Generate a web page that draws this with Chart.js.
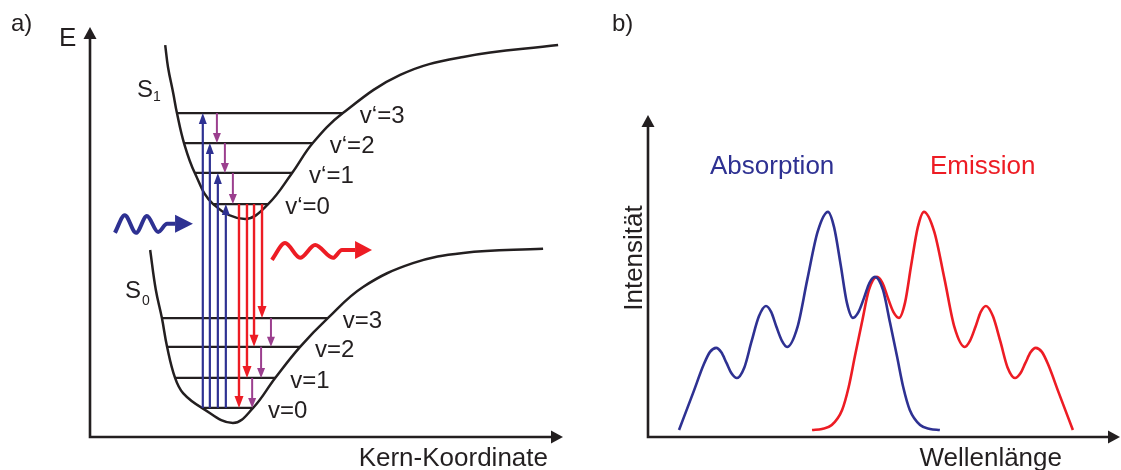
<!DOCTYPE html>
<html>
<head>
<meta charset="utf-8">
<script src="https://cdn.jsdelivr.net/npm/chart.js@4.4.1/dist/chart.umd.min.js"></script>
<style>
  html, body { margin: 0; padding: 0; background: #fff; }
  #wrap { position: relative; width: 1121px; height: 470px; overflow: hidden; }
  canvas { position: absolute; top: 0; }
  #cA { left: 0; }
  #cB { left: 580px; }
</style>
</head>
<body>
<div id="wrap">
  <canvas id="cA" width="580" height="470"></canvas>
  <canvas id="cB" width="541" height="470"></canvas>
</div>
<script>
// ---- a) Franck-Condon diagram (Kern-Koordinate vs. Energie, relative units) ----
const s0CurveX = [12.8, 14.0, 15.3, 16.4, 18.1, 19.8, 23.8, 30.4, 34.7, 39.4, 44.7, 50.6, 58.1, 68.7, 79.4, 96.4];
const s0CurveE = [45.6, 35.9, 29.0, 22.0, 14.4, 10.7, 7.1, 3.4, 7.1, 14.4, 22.0, 29.0, 36.6, 42.4, 44.9, 45.9];
const s1CurveX = [16.0, 16.6, 17.7, 18.5, 20.0, 22.3, 26.2, 33.0, 37.9, 43.0, 47.4, 53.8, 66.0, 79.4, 99.6];
const s1CurveE = [95.6, 90.2, 83.9, 79.0, 71.7, 64.4, 56.8, 53.2, 56.8, 64.4, 71.7, 79.0, 88.3, 92.7, 95.6];

// vibrational levels: energy, left and right end on the potential curve
const s0Levels = [7.1, 14.4, 22.0, 29.0];
const s0LevelLeft = [23.8, 18.1, 16.4, 15.3];
const s0LevelRight = [34.7, 39.4, 44.7, 50.6];
const s0LevelLabels = ['v=0', 'v=1', 'v=2', 'v=3'];
const s1Levels = [56.8, 64.4, 71.7, 79.0];
const s1LevelLeft = [26.2, 22.3, 20.0, 18.5];
const s1LevelRight = [37.9, 43.0, 47.4, 53.8];
const s1LevelLabels = ['v\u2018=0', 'v\u2018=1', 'v\u2018=2', 'v\u2018=3'];

// transitions: absorption v=0 -> v', emission v'=0 -> v, relaxation steps
const absorptionX = [24.0, 25.5, 27.2, 28.9];
const absorptionTarget = [3, 2, 1, 0];
const emissionX = [31.7, 33.4, 34.9, 36.6];
const emissionTarget = [0, 1, 2, 3];
const relaxS1X = [27.0, 28.7, 30.4];      // v'=3->2, 2->1, 1->0
const relaxS1From = [3, 2, 1];
const relaxS0X = [34.5, 36.4, 38.5];      // v=1->0, 2->1, 3->2
const relaxS0From = [1, 2, 3];

// incoming and outgoing photons
const photonInX = [5.3, 7.4, 9.8, 12.1, 14.5, 16.4, 18.1];
const photonInE = [49.8, 54.1, 49.8, 53.9, 50.0, 52.0, 52.0];
const photonInTip = 21.9;
const photonOutX = [38.7, 41.5, 44.7, 47.9, 51.7, 53.6, 56.4];
const photonOutE = [43.2, 47.3, 43.7, 46.8, 43.7, 45.6, 45.6];
const photonOutTip = 60.0;

// ---- b) spectra (Wellenlänge vs. Intensität, relative units) ----
const absWl = [6.6, 9.6, 11.9, 13.2, 14.5, 15.6, 16.7, 17.8, 18.9, 20.5, 22.0, 23.6, 25.1, 26.2, 27.3, 28.5, 29.6, 31.8, 33.9, 36.1, 38.3, 39.6, 41.0, 42.3, 43.6, 44.8, 46.0, 47.1, 48.3, 50.0, 51.5, 53.0, 54.3, 55.7, 57.9, 60.0, 62.1];
const absInt = [3.1, 19.6, 32.4, 37.8, 39.6, 37.6, 32.9, 28.2, 26.2, 30.9, 42.2, 53.6, 58.2, 55.6, 49.1, 42.7, 40.0, 48.8, 70.0, 91.2, 100, 93.1, 76.4, 59.8, 52.9, 55.6, 62.0, 68.4, 71.1, 65.3, 50.7, 35.6, 22.2, 12.0, 5.3, 3.6, 3.1];
const emWl = [34.9, 37.0, 39.1, 41.3, 42.7, 44.0, 45.5, 47.0, 48.7, 49.9, 51.0, 52.2, 53.4, 54.7, 56.0, 57.4, 58.7, 60.9, 63.1, 65.2, 67.4, 68.5, 69.7, 70.8, 71.9, 73.4, 75.0, 76.5, 78.1, 79.2, 80.3, 81.4, 82.5, 83.8, 85.1, 87.4, 90.4];
const emInt = [3.1, 3.6, 5.3, 12.0, 22.2, 35.6, 50.7, 65.3, 71.1, 68.4, 62.0, 55.6, 52.9, 59.8, 76.4, 93.1, 100, 91.2, 70.0, 48.8, 40.0, 42.7, 49.1, 55.6, 58.2, 53.6, 42.2, 30.9, 26.2, 28.2, 32.9, 37.6, 39.6, 37.8, 32.4, 19.6, 3.1];

const INK = '#231f20';
const BLUE = '#2e3192';
const RED = '#ed1c24';
const PURPLE = '#9b3f8e';
const FONT = '"Liberation Sans", Arial, Helvetica, sans-serif';

function pts(xs, ys) { return xs.map((x, i) => ({ x: x, y: ys[i] })); }

function curve(data, color, width, mode) {
  return {
    data: data, borderColor: color, borderWidth: width, pointRadius: 0,
    showLine: true, fill: false, clip: false,
    cubicInterpolationMode: mode || 'default', tension: 0.4,
    borderCapStyle: 'butt', borderJoinStyle: 'round'
  };
}

function head(ctx, tipX, tipY, dx, dy, len, halfW, color) {
  // dx,dy: unit direction of the arrow
  const bx = tipX - dx * len, by = tipY - dy * len;
  ctx.fillStyle = color;
  ctx.beginPath();
  ctx.moveTo(tipX, tipY);
  ctx.lineTo(bx - dy * halfW, by + dx * halfW);
  ctx.lineTo(bx + dy * halfW, by - dx * halfW);
  ctx.closePath();
  ctx.fill();
}

function vArrow(ctx, x, y0, y1, color, lw, len, halfW) {
  const dir = Math.sign(y1 - y0);
  ctx.strokeStyle = color;
  ctx.lineWidth = lw;
  ctx.lineCap = 'butt';
  ctx.beginPath();
  ctx.moveTo(x, y0);
  ctx.lineTo(x, y1 - dir * len * 0.7);
  ctx.stroke();
  head(ctx, x, y1, 0, dir, len, halfW, color);
}

function axes(ctx, a, xTipExtra) {
  ctx.strokeStyle = INK;
  ctx.lineWidth = 2.6;
  ctx.lineCap = 'butt';
  ctx.beginPath();
  ctx.moveTo(a.left, a.bottom + 1.3);
  ctx.lineTo(a.left, a.top + 10);
  ctx.moveTo(a.left - 1.3, a.bottom);
  ctx.lineTo(a.right + xTipExtra - 10, a.bottom);
  ctx.stroke();
  head(ctx, a.left, a.top, 0, -1, 12, 6.5, INK);
  head(ctx, a.right + xTipExtra, a.bottom, 1, 0, 12, 6.5, INK);
}

const commonOpts = (padding, yMax) => ({
  responsive: false,
  animation: false,
  events: [],
  layout: { padding: padding },
  plugins: { legend: { display: false }, tooltip: { enabled: false } },
  scales: {
    x: { type: 'linear', min: 0, max: 100, display: false },
    y: { type: 'linear', min: 0, max: yMax, display: false }
  }
});

// ---------- panel a ----------
const levelSets = [];
s0Levels.forEach((e, i) => levelSets.push(curve([{ x: s0LevelLeft[i], y: e }, { x: s0LevelRight[i], y: e }], INK, 2.2)));
s1Levels.forEach((e, i) => levelSets.push(curve([{ x: s1LevelLeft[i], y: e }, { x: s1LevelRight[i], y: e }], INK, 2.2)));

const panelA = {
  id: 'panelA',
  afterDatasetsDraw(chart) {
    const { ctx, chartArea: a } = chart;
    const sx = chart.scales.x, sy = chart.scales.y;
    const px = v => sx.getPixelForValue(v);
    const py = v => sy.getPixelForValue(v);
    ctx.save();
    axes(ctx, a, 3);

    absorptionX.forEach((v, i) =>
      vArrow(ctx, px(v), py(s0Levels[0]), py(s1Levels[absorptionTarget[i]]), BLUE, 2.2, 11, 4));
    emissionX.forEach((v, i) =>
      vArrow(ctx, px(v), py(s1Levels[0]), py(s0Levels[emissionTarget[i]]), RED, 2.4, 12, 4.5));
    relaxS1X.forEach((v, i) =>
      vArrow(ctx, px(v), py(s1Levels[relaxS1From[i]]), py(s1Levels[relaxS1From[i] - 1]), PURPLE, 2, 10, 4));
    relaxS0X.forEach((v, i) =>
      vArrow(ctx, px(v), py(s0Levels[relaxS0From[i]]), py(s0Levels[relaxS0From[i] - 1]), PURPLE, 2, 10, 4));

    // photon arrowheads
    const inEnd = photonInE.length - 1;
    head(ctx, px(photonInTip), py(photonInE[inEnd]), 1, 0, px(photonInTip) - px(photonInX[inEnd]), 9, BLUE);
    const outEnd = photonOutE.length - 1;
    head(ctx, px(photonOutTip), py(photonOutE[outEnd]), 1, 0, px(photonOutTip) - px(photonOutX[outEnd]), 9, RED);

    // texts
    ctx.fillStyle = INK;
    ctx.textBaseline = 'alphabetic';
    ctx.textAlign = 'left';
    ctx.font = '24px ' + FONT;
    ctx.fillText('a)', 11, 31);
    ctx.font = '26px ' + FONT;
    ctx.fillText('E', 59, 46);
    ctx.textAlign = 'right';
    ctx.fillText('Kern-Koordinate', 548, 466);
    ctx.textAlign = 'left';

    ctx.font = '24px ' + FONT;
    ctx.fillText('S', 137, 97);
    ctx.fillText('S', 125, 298);
    ctx.font = '14px ' + FONT;
    ctx.fillText('1', 153, 101);
    ctx.fillText('0', 142, 305);

    ctx.font = '24px ' + FONT;
    s1Levels.forEach((e, i) => ctx.fillText(s1LevelLabels[i], px(s1LevelRight[i]) + 17, py(e) + 10));
    s0Levels.forEach((e, i) => ctx.fillText(s0LevelLabels[i], px(s0LevelRight[i]) + 15, py(e) + 10));
    ctx.restore();
  }
};

new Chart(document.getElementById('cA'), {
  type: 'scatter',
  data: {
    datasets: [
      curve(pts(s0CurveX, s0CurveE), INK, 2.5),
      curve(pts(s1CurveX, s1CurveE), INK, 2.5),
      ...levelSets,
      curve(pts(photonInX, photonInE), BLUE, 4, 'monotone'),
      curve(pts(photonOutX, photonOutE), RED, 4, 'monotone')
    ]
  },
  options: commonOpts({ left: 90, right: 20, top: 27, bottom: 33 }, 100),
  plugins: [panelA]
});

// ---------- panel b ----------
const panelB = {
  id: 'panelB',
  afterDatasetsDraw(chart) {
    const { ctx, chartArea: a } = chart;
    ctx.save();
    axes(ctx, a, 2);
    ctx.textBaseline = 'alphabetic';
    ctx.font = '24px ' + FONT;
    ctx.fillStyle = INK;
    ctx.textAlign = 'left';
    ctx.fillText('b)', 32, 31);
    ctx.font = '26px ' + FONT;
    ctx.textAlign = 'right';
    ctx.fillText('Wellenl\u00e4nge', 482, 466);
    ctx.textAlign = 'left';
    ctx.fillStyle = BLUE;
    ctx.fillText('Absorption', 130, 174);
    ctx.fillStyle = RED;
    ctx.fillText('Emission', 350, 174);
    ctx.fillStyle = INK;
    ctx.save();
    ctx.translate(62, 258);
    ctx.rotate(-Math.PI / 2);
    ctx.textAlign = 'center';
    ctx.fillText('Intensit\u00e4t', 0, 0);
    ctx.restore();
    ctx.restore();
  }
};

new Chart(document.getElementById('cB'), {
  type: 'scatter',
  data: {
    datasets: [
      curve(pts(absWl, absInt), BLUE, 2.6, 'monotone'),
      curve(pts(emWl, emInt), RED, 2.6, 'monotone')
    ]
  },
  options: commonOpts({ left: 68, right: 3, top: 115, bottom: 33 }, 143),
  plugins: [panelB]
});
</script>
</body>
</html>
